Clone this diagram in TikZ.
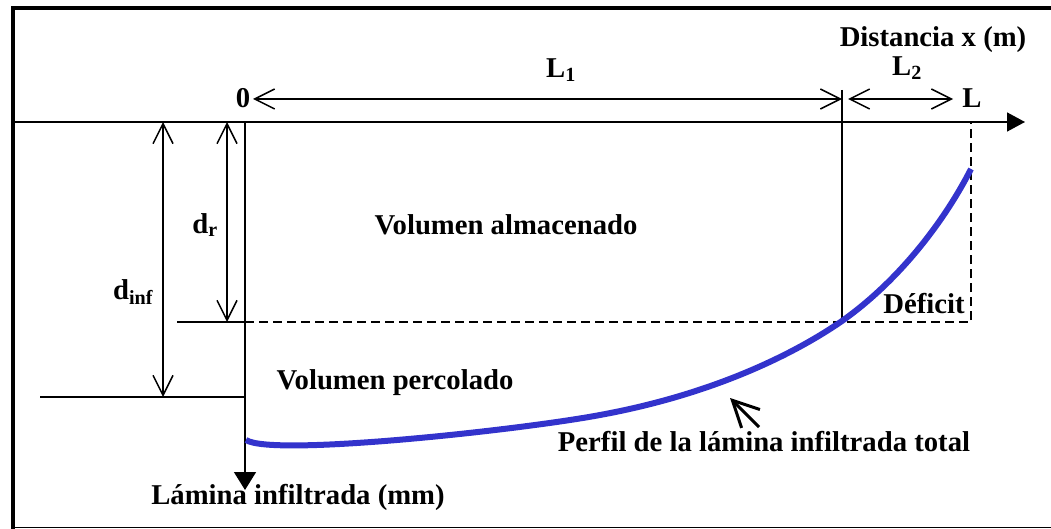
\documentclass[tikz,border=0pt]{standalone}
\usepackage{fontspec}
\setmainfont{Liberation Serif}
\usetikzlibrary{arrows.meta}
\definecolor{curveblue}{RGB}{51,51,204}
\begin{document}
\begin{tikzpicture}[x=1pt,y=-1pt,
  lbl/.style={font=\fontsize{28.7}{31}\selectfont\bfseries, inner sep=0pt},
  thin line/.style={line width=1.5pt},
  dimarrow/.style={thin line, {Straight Barb[length=20pt,width=20pt,line width=1.5pt]}-{Straight Barb[length=20pt,width=20pt,line width=1.5pt]}},
  axisarrow/.style={thin line, -{Triangle[length=18pt,width=19pt]}},
  dashline/.style={thin line, dash pattern=on 9pt off 5pt}]
\useasboundingbox (0,0) rectangle (1051,529);
% frame
\draw[line width=4pt] (1051,8) -- (13,8) -- (13,529);
\draw[line width=1.5pt] (13,527.5) -- (1051,527.5);
% coordinates
\coordinate (O) at (245,122);
\coordinate (xend) at (1025,122);
\coordinate (xstart) at (13,122);
\coordinate (yend) at (245,490);
\coordinate (L1a) at (253,99);
\coordinate (L1b) at (842,99);
\coordinate (L2a) at (848,99);
\coordinate (L2b) at (953,99);
\coordinate (vtop) at (842,90);
\coordinate (vbot) at (842,322);
\coordinate (Ltop) at (971,122);
\coordinate (Lbot) at (971,322);
\coordinate (drl) at (177,322);
\coordinate (drr) at (245,322);
\coordinate (dil) at (40,397);
\coordinate (dir) at (245,397);
\coordinate (dra) at (227,122);
\coordinate (drb) at (227,322);
\coordinate (dia) at (163,122);
\coordinate (dib) at (163,397);
\coordinate (ptip) at (730,398);
\coordinate (ptail) at (759,427);
\coordinate (c0) at (246,440);
\coordinate (c1) at (600,415);
\coordinate (c2) at (842,321);
\coordinate (c3) at (971,169);
% axes
\draw[axisarrow] (xstart) -- (xend);
\draw[axisarrow, -{Triangle[length=18pt,width=22pt]}] (O) -- (yend);
% dimension arrows
\draw[dimarrow] (L1a) -- (L1b);
\draw[dimarrow] (L2a) -- (L2b);
\draw[dimarrow] (dra) -- (drb);
\draw[dimarrow] (dia) -- (dib);
% lines
\draw[thin line] (vtop) -- (vbot);
\draw[thin line] (drl) -- (drr);
\draw[thin line] (dil) -- (dir);
\draw[dashline] (drr) -- (Lbot) -- (Ltop);
% curve
\draw[curveblue, line width=6pt, line cap=butt]
  (c0) .. controls (272,457) and (520,430) .. (c1)
       .. controls (720,393) and (800,350) .. (c2)
       .. controls (900,280) and (945,220) .. (c3);
% pointer arrow
\draw[line width=3pt, -{Straight Barb[length=26pt,width=26pt,line width=3pt]}] (ptail) -- (ptip);
% labels
\node[lbl] (zero) at (243,98) {0};
\node[lbl] (l1) at (561,70) {L\textsubscript{1}};
\node[lbl] (l2) at (907,68) {L\textsubscript{2}};
\node[lbl] (ll) at (972,98) {L};
\node[lbl] (dist) at (933,40) {Distancia x (m)};
\node[lbl] (dr) at (205,225) {d\textsubscript{r}};
\node[lbl] (dinf) at (133,292) {d\textsubscript{inf}};
\node[lbl] (valm) at (506,225) {Volumen almacenado};
\node[lbl] (vper) at (395,383) {Volumen percolado};
\node[lbl] (def) at (924,304) {Déficit};
\node[lbl] (perf) at (764,442) {Perfil de la lámina infiltrada total};
\node[lbl] (lam) at (298,497) {Lámina infiltrada (mm)};
\end{tikzpicture}
\end{document}
